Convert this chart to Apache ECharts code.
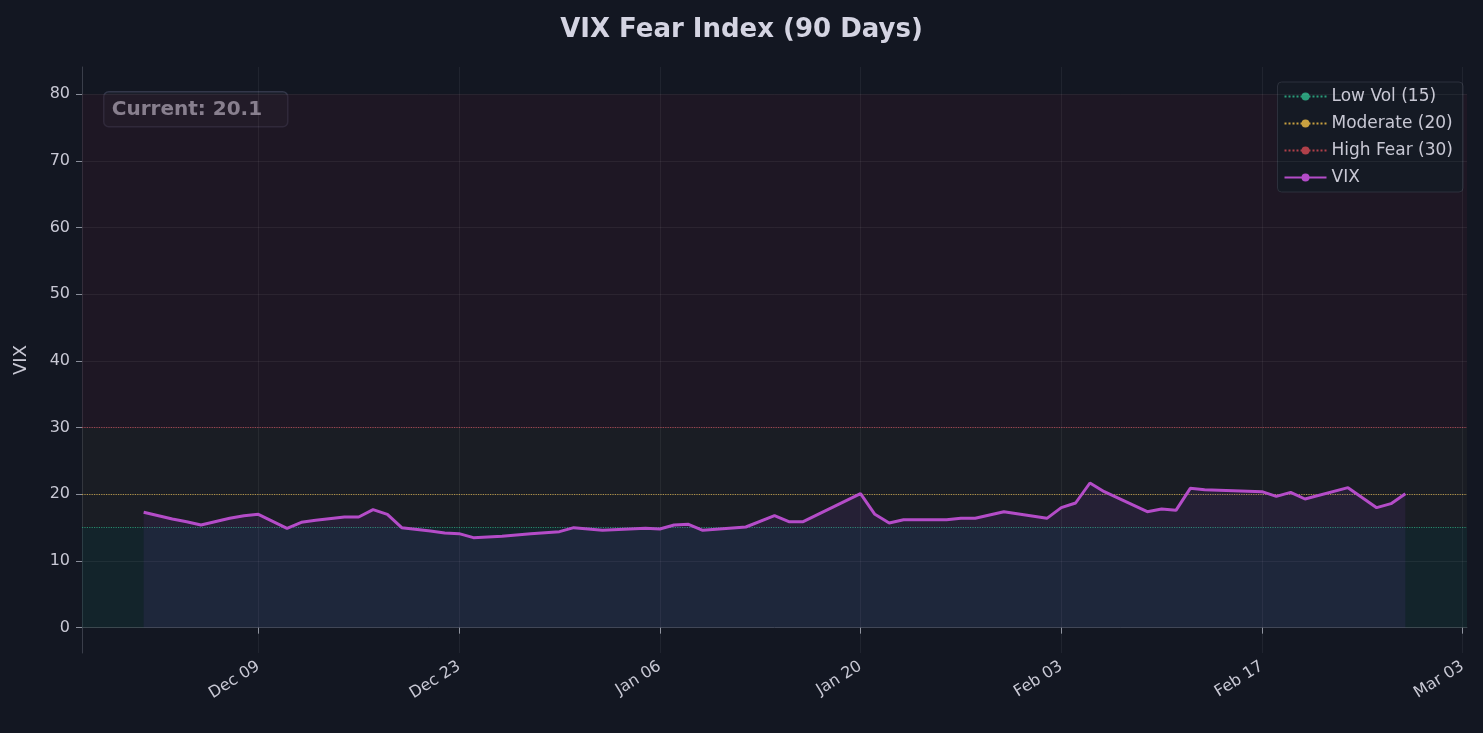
<!DOCTYPE html>
<html>
<head>
<meta charset="utf-8">
<script src="https://cdn.jsdelivr.net/npm/echarts@6/dist/echarts.min.js"></script>
<style>
  html, body { margin: 0; padding: 0; background: #131722; }
  #chart { width: 1483px; height: 733px; }
</style>
</head>
<body>
<div id="chart"></div>
<script>
const vixDates = [
    '2025-12-01', '2025-12-03', '2025-12-04', '2025-12-05', '2025-12-07', '2025-12-08', '2025-12-09',
    '2025-12-11', '2025-12-12', '2025-12-13', '2025-12-15', '2025-12-16', '2025-12-17', '2025-12-18',
    '2025-12-19', '2025-12-21', '2025-12-22', '2025-12-23', '2025-12-24', '2025-12-26', '2025-12-28',
    '2025-12-30', '2025-12-31', '2026-01-02', '2026-01-05', '2026-01-06', '2026-01-07', '2026-01-08',
    '2026-01-09', '2026-01-12', '2026-01-14', '2026-01-15', '2026-01-16', '2026-01-20', '2026-01-21',
    '2026-01-22', '2026-01-23', '2026-01-26', '2026-01-27', '2026-01-28', '2026-01-30', '2026-02-02',
    '2026-02-03', '2026-02-04', '2026-02-05', '2026-02-06', '2026-02-09', '2026-02-10', '2026-02-11',
    '2026-02-12', '2026-02-13', '2026-02-17', '2026-02-18', '2026-02-19', '2026-02-20', '2026-02-23',
    '2026-02-25', '2026-02-26', '2026-02-27'
];
const vixValues = [
    17.3, 16.3, 15.9, 15.4, 16.4, 16.8, 17.0,
    14.9, 15.8, 16.1, 16.6, 16.6, 17.7, 17.0,
    15.0, 14.5, 14.2, 14.1, 13.5, 13.7, 14.1,
    14.4, 15.0, 14.6, 14.9, 14.8, 15.4, 15.5,
    14.6, 15.1, 16.8, 15.9, 15.9, 20.1, 17.0,
    15.7, 16.2, 16.2, 16.4, 16.4, 17.4, 16.4,
    18.0, 18.7, 21.7, 20.4, 17.4, 17.8, 17.6,
    20.9, 20.7, 20.4, 19.7, 20.3, 19.3, 21.0,
    18.0, 18.6, 20.1
];
const xTickDates = ['2025-12-09', '2025-12-23', '2026-01-06', '2026-01-20', '2026-02-03', '2026-02-17', '2026-03-03'];
const yTicks = [0, 10, 20, 30, 40, 50, 60, 70, 80];
const thresholds = [
    { name: 'Low Vol (15)', value: 15, color: '#2a9d7a' },
    { name: 'Moderate (20)', value: 20, color: '#c8a040' },
    { name: 'High Fear (30)', value: 30, color: '#b0404a' }
];
const currentValue = 20.1;

const MONTHS = ['Jan', 'Feb', 'Mar', 'Apr', 'May', 'Jun', 'Jul', 'Aug', 'Sep', 'Oct', 'Nov', 'Dec'];
const ts = s => new Date(s + 'T00:00:00Z').getTime();
const DAY = 86400000;

const chart = echarts.init(document.getElementById('chart'), null, { renderer: 'canvas' });

const xMin = ts('2025-12-09') - 12.3 * DAY;
const xMax = ts('2026-03-03') + 0.3 * DAY;

const thresholdSeries = thresholds.map(t => ({
    name: t.name,
    type: 'line',
    data: [],
    symbol: 'none',
    lineStyle: { color: t.color, type: 'dotted', width: 1 },
    itemStyle: { color: t.color },
    markLine: {
        silent: true, symbol: 'none', label: { show: false },
        lineStyle: { color: t.color, type: 'dotted', width: 1.2, opacity: 0.85 },
        data: [{ yAxis: t.value }]
    }
}));

chart.setOption({
    backgroundColor: '#131722',
    animation: false,
    title: {
        text: 'VIX Fear Index (90 Days)',
        left: 'center', top: 12,
        textStyle: { color: '#d4d4e2', fontSize: 26, fontWeight: 'bold', fontFamily: 'DejaVu Sans' }
    },
    legend: {
        orient: 'vertical', right: 20, top: 82,
        data: thresholds.map(t => t.name).concat(['VIX']),
        backgroundColor: '#151a24', borderColor: '#2c303c', borderWidth: 1, borderRadius: 4,
        padding: [6, 10, 6, 6], itemGap: 10, itemWidth: 42, itemHeight: 10,
        textStyle: { color: '#c8c8d4', fontSize: 17, fontFamily: 'DejaVu Sans' }
    },
    grid: { left: 82, right: 16, top: 67, bottom: 80 },
    xAxis: {
        type: 'value', min: xMin, max: xMax,
        axisLine: { lineStyle: { color: '#3a3e4a' } },
        axisTick: { customValues: xTickDates.map(ts), lineStyle: { color: '#8a8e9a' }, length: 6 },
        axisLabel: {
            customValues: xTickDates.map(ts), rotate: 32, color: '#c8c8d4', fontSize: 16,
            fontFamily: 'DejaVu Sans', margin: 12,
            formatter: v => {
                const d = new Date(v);
                return MONTHS[d.getUTCMonth()] + ' ' + String(d.getUTCDate()).padStart(2, '0');
            }
        },
        splitLine: { show: false }
    },
    yAxis: {
        type: 'value', min: -3.8, max: 84.1,
        name: 'VIX', nameLocation: 'middle', nameGap: 52,
        nameTextStyle: { color: '#c8c8d4', fontSize: 18, fontFamily: 'DejaVu Sans' },
        axisLine: { show: true, lineStyle: { color: '#3a3e4a' } },
        axisTick: { show: true, customValues: yTicks, lineStyle: { color: '#8a8e9a' }, length: 6 },
        axisLabel: { customValues: yTicks, color: '#c8c8d4', fontSize: 16, fontFamily: 'DejaVu Sans', margin: 12 },
        splitLine: { show: false }
    },
    series: thresholdSeries.concat([
        {
            name: 'VIX',
            type: 'line',
            data: vixDates.map((d, i) => [ts(d), vixValues[i]]),
            symbol: 'none',
            z: 5,
            lineStyle: { color: '#b44cc8', width: 3 },
            itemStyle: { color: '#b44cc8' },
            areaStyle: { color: 'rgba(130, 70, 200, 0.15)' },
            markArea: {
                silent: true,
                data: [
                    [{ yAxis: 0, itemStyle: { color: 'rgba(20, 60, 60, 0.35)' } }, { yAxis: 15 }],
                    [{ yAxis: 15, itemStyle: { color: 'rgba(40, 40, 40, 0.35)' } }, { yAxis: 30 }],
                    [{ yAxis: 30, itemStyle: { color: 'rgba(45, 25, 40, 0.45)' } }, { yAxis: 80 }]
                ]
            },
            markLine: {
                silent: true, symbol: 'none', label: { show: false },
                lineStyle: { color: 'rgba(255,255,255,0.06)', type: 'solid', width: 1 },
                data: yTicks.map(v => ({ yAxis: v })).concat(xTickDates.map(d => ({ xAxis: ts(d) })))
            }
        }
    ]),
    graphic: [{
        type: 'group', left: 103, top: 91,
        children: [
            { type: 'rect', shape: { x: 0, y: 0, width: 184, height: 35, r: 5 },
              style: { fill: '#1a1e29', stroke: '#33374a', lineWidth: 1.5 } },
            { type: 'text', x: 8, y: 8,
              style: { text: 'Current: ' + currentValue.toFixed(1), fill: '#d4d4e2', fontSize: 20,
                       fontWeight: 'bold', fontFamily: 'DejaVu Sans' } }
        ]
    }]
});
</script>
</body>
</html>
